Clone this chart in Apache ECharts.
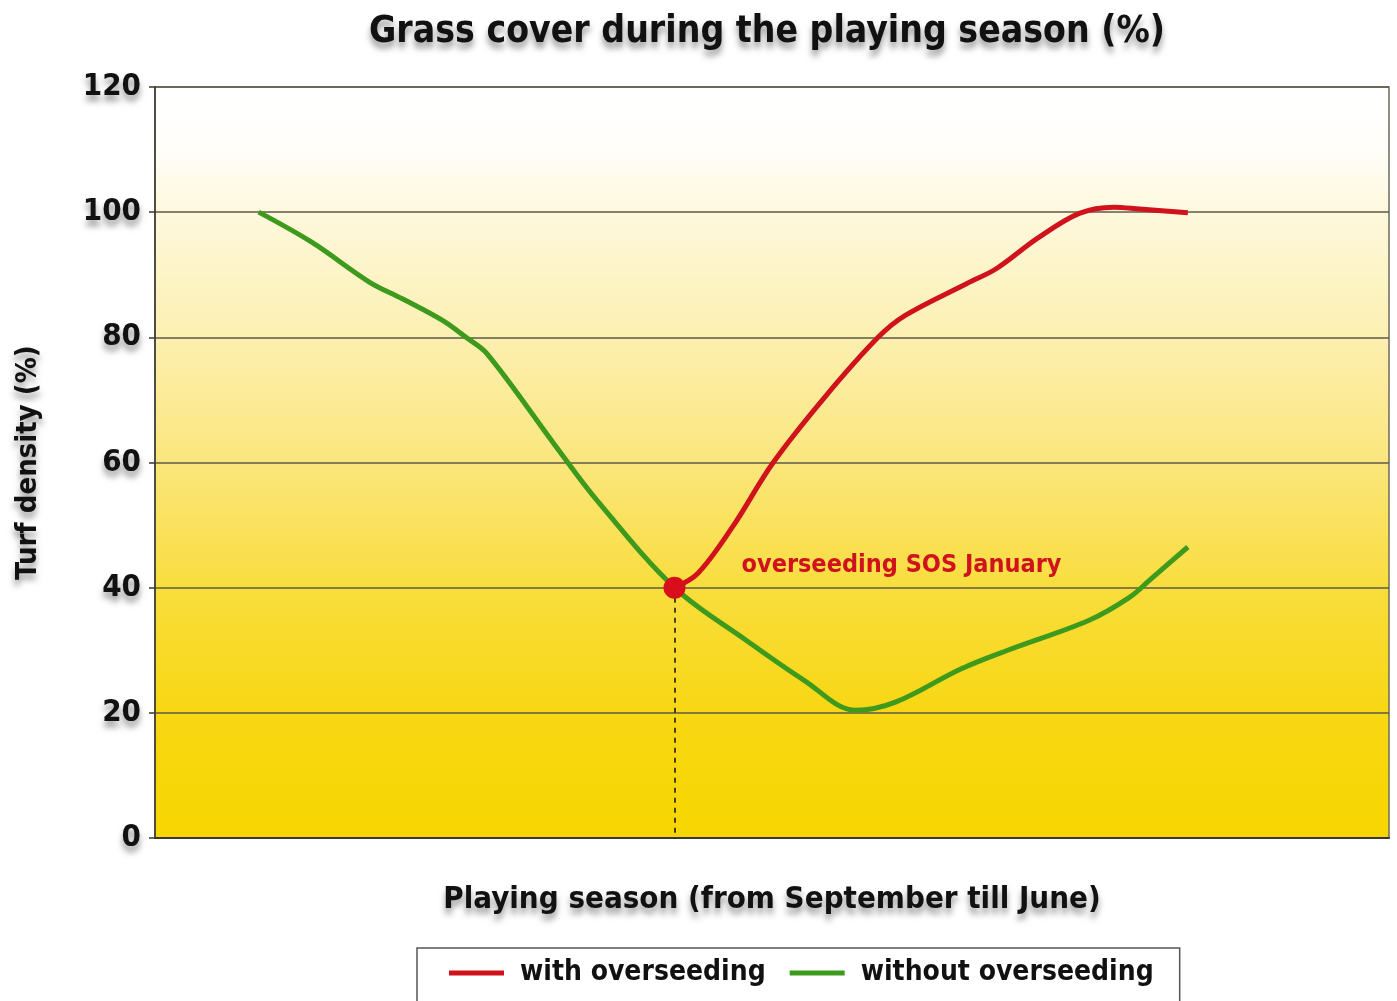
<!DOCTYPE html>
<html>
<head>
<meta charset="utf-8">
<script src="https://cdn.jsdelivr.net/npm/echarts@6/dist/echarts.min.js"></script>
<style>
html,body{margin:0;padding:0;background:#ffffff;overflow:hidden;}
#chart{width:1397px;height:1001px;}
</style>
</head>
<body>
<div id="chart"></div>
<script>
// Data (x = position along the playing season, arbitrary 0-100 scale; y = turf density %)
const seriesNames = ['with overseeding', 'without overseeding'];
const withoutX = [8.4, 12.7, 17.4, 20.0, 23.3, 25.2, 26.9, 32.7, 35.8, 42.1, 47.9, 52.6, 56.8, 60.0, 65.3, 69.1, 75.7, 79.0, 80.6, 83.7];
const withoutY = [100, 95.2, 88.8, 86.2, 82.7, 80, 77.4, 62, 54, 40, 31.6, 25.2, 20.4, 21.7, 27, 30, 34.8, 38.5, 41.2, 46.5];
const withX = [42.1, 44.0, 46.8, 50.1, 54.3, 58.6, 60.8, 65.8, 68.2, 71.5, 74.9, 77.7, 79.8, 83.7];
const withY = [40, 42.3, 49.7, 60, 70.5, 80, 83.5, 88.6, 91, 95.8, 99.8, 100.8, 100.5, 99.9];
const overseedX = 42.1;
const overseedY = 40;
const annotation = 'overseeding SOS January';
const yTicks = [0, 20, 40, 60, 80, 100, 120];

const FONT = '"DejaVu Sans Condensed", "DejaVu Sans", sans-serif';
const shadow = {textShadowColor: 'rgba(0,0,0,0.4)', textShadowBlur: 6, textShadowOffsetY: 6};

const pair = (xs, ys) => xs.map((x, i) => [x, ys[i]]);

const chart = echarts.init(document.getElementById('chart'));
chart.setOption({
  backgroundColor: '#ffffff',
  animation: false,
  title: {
    text: 'Grass cover during the playing season (%)',
    left: 762, textAlign: 'center', top: 9,
    textStyle: Object.assign({fontFamily: FONT, fontWeight: 'bold', fontSize: 37, color: '#111'}, shadow)
  },
  grid: {
    left: 155, right: 8, top: 87, bottom: 163,
    show: true, borderColor: '#6e6a5c', borderWidth: 1.5,
    backgroundColor: {
      type: 'linear', x: 0, y: 0, x2: 0, y2: 1,
      colorStops: [
        {offset: 0, color: '#ffffff'},
        {offset: 0.08, color: '#fffefa'},
        {offset: 0.17, color: '#fef8dc'},
        {offset: 0.33, color: '#fcf0b2'},
        {offset: 0.5, color: '#fbe67c'},
        {offset: 0.67, color: '#f9dd3c'},
        {offset: 0.83, color: '#f8d714'},
        {offset: 1, color: '#f7d600'}
      ]
    }
  },
  legend: {
    data: seriesNames,
    left: 417, top: 948,
    orient: 'horizontal',
    icon: 'rect', itemWidth: 55, itemHeight: 5, itemGap: 24,
    borderColor: '#555', borderWidth: 1.5,
    padding: [11, 26, 22, 32],
    textStyle: {fontFamily: FONT, fontWeight: 'bold', fontSize: 28, color: '#111', padding: [0, 0, 0, 11]}
  },
  xAxis: {
    type: 'value', min: 0, max: 100,
    name: 'Playing season (from September till June)',
    nameLocation: 'middle', nameGap: 46,
    nameTextStyle: Object.assign({fontFamily: FONT, fontWeight: 'bold', fontSize: 31, color: '#111'}, shadow),
    axisLine: {show: true, lineStyle: {color: '#3a382c', width: 2}},
    axisTick: {show: false},
    axisLabel: {show: false},
    splitLine: {show: false}
  },
  yAxis: {
    type: 'value', min: 0, max: 120, interval: 20,
    name: 'Turf density (%)',
    nameLocation: 'middle', nameGap: 112, nameRotate: 90,
    nameTextStyle: Object.assign({fontFamily: FONT, fontWeight: 'bold', fontSize: 29, color: '#111'}, shadow),
    axisLine: {show: true, lineStyle: {color: '#3a382c', width: 1.5}},
    axisTick: {show: true, length: 6, lineStyle: {color: '#3a382c', width: 1.5}},
    axisLabel: Object.assign({
      fontFamily: FONT, fontWeight: 'bold', fontSize: 31, color: '#111', margin: 14,
      formatter: v => yTicks.includes(v) ? String(v) : ''
    }, shadow),
    splitLine: {show: true, lineStyle: {color: '#5e5a48', width: 1.5}}
  },
  series: [
    {
      name: seriesNames[1], type: 'line', data: pair(withoutX, withoutY),
      smooth: 0.35, showSymbol: false, symbol: 'none',
      lineStyle: {color: '#3e9a1c', width: 5},
      itemStyle: {color: '#3e9a1c'}, z: 3
    },
    {
      name: seriesNames[0], type: 'line', data: pair(withX, withY),
      smooth: 0.35, showSymbol: false, symbol: 'none',
      lineStyle: {color: '#d0121c', width: 5},
      itemStyle: {color: '#d0121c'}, z: 4,
      markLine: {
        silent: true, symbol: ['none', 'none'], label: {show: false},
        lineStyle: {color: '#111', type: [5, 5], width: 1.5},
        data: [[{coord: [overseedX, overseedY]}, {coord: [overseedX, 0]}]]
      }
    },
    {
      type: 'scatter', data: [[overseedX, overseedY]],
      symbol: 'circle', symbolSize: 22, z: 5,
      itemStyle: {color: '#d80f1a', opacity: 1},
      label: {
        show: true, position: 'right', distance: 56, offset: [0, -22],
        formatter: annotation,
        fontFamily: FONT, fontWeight: 'bold', fontSize: 25, color: '#d0121c'
      }
    }
  ]
});
</script>
</body>
</html>
